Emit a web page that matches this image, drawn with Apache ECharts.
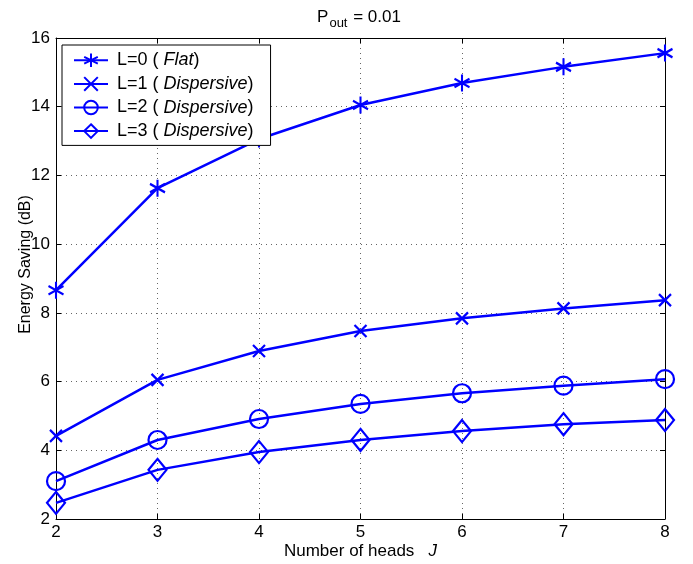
<!DOCTYPE html>
<html>
<head>
<meta charset="utf-8">
<script src="https://cdn.jsdelivr.net/npm/echarts@6/dist/echarts.min.js"></script>
<style>
  html, body { margin: 0; padding: 0; background: #fff; }
  #chart { width: 693px; height: 564px; }
</style>
</head>
<body>
<div id="chart"></div>
<script>
// values
const heads = [2, 3, 4, 5, 6, 7, 8];
const flatL0 = [8.66, 11.63, 13.06, 14.05, 14.69, 15.16, 15.56];
const dispL1 = [4.42, 6.05, 6.89, 7.47, 7.84, 8.13, 8.37];
const dispL2 = [3.10, 4.30, 4.91, 5.35, 5.66, 5.88, 6.07];
const dispL3 = [2.47, 3.43, 3.95, 4.30, 4.56, 4.76, 4.88];
const seriesNames = ['L=0', 'L=1', 'L=2', 'L=3'];
const channelKind = ['Flat', 'Dispersive', 'Dispersive', 'Dispersive'];

const BLUE = '#0000ff';
const FONT = 'Liberation Sans, Arial, sans-serif';

const asterisk = 'path://M0,-10L0,10M-8.66,-5L8.66,5M-8.66,5L8.66,-5';
const cross = 'path://M-1,-1L1,1M-1,1L1,-1';

function pairs(ys) {
  return heads.map((x, i) => [x, ys[i]]);
}

function makeSeries(name, ys, symbol, size) {
  return {
    name,
    type: 'line',
    data: pairs(ys),
    symbol,
    symbolSize: size,
    showAllSymbol: true,
    lineStyle: { color: BLUE, width: 2.5 },
    itemStyle: { color: 'none', borderColor: BLUE, borderWidth: 2.2 },
    emphasis: { disabled: true },
    z: 3
  };
}

const chart = echarts.init(document.getElementById('chart'));

const boxAxis = {
  axisLine: { show: true, lineStyle: { color: '#000', width: 1 } },
  axisTick: { show: true, inside: true, length: 5, lineStyle: { color: '#000' } },
  axisLabel: { show: false },
  splitLine: { show: false }
};

chart.setOption({
  animation: false,
  backgroundColor: '#fff',
  title: {
    text: '{a|P}{s|out}{a| = 0.01}',
    left: 354,
    textAlign: 'center',
    top: 2,
    textStyle: {
      fontWeight: 'normal',
      rich: {
        a: { fontFamily: FONT, fontSize: 17, fontWeight: 'normal', color: '#000', lineHeight: 20 },
        s: { fontFamily: FONT, fontSize: 13, fontWeight: 'normal', color: '#000', lineHeight: 20, padding: [12, 1, 0, 1] }
      }
    }
  },
  grid: { left: 56, right: 28, top: 38, bottom: 45, outerBoundsMode: 'none', containLabel: false },
  legend: {
    orient: 'vertical',
    left: 62,
    top: 45,
    padding: [6, 17, 5, 11],
    itemGap: 5,
    itemWidth: 34,
    itemHeight: 17,
    backgroundColor: '#fff',
    borderColor: '#000',
    borderWidth: 1,
    borderRadius: 0,
    data: seriesNames,
    formatter: name => {
      const k = channelKind[seriesNames.indexOf(name)];
      return '{n|' + name + ' ( }{i|' + k + '}{n|)}';
    },
    textStyle: {
      padding: [0, 0, 0, 4],
      rich: {
        n: { fontFamily: FONT, fontSize: 18, color: '#000' },
        i: { fontFamily: FONT, fontSize: 18, fontStyle: 'italic', color: '#000' }
      }
    }
  },
  xAxis: [
    {
      type: 'value',
      min: 2, max: 8, interval: 1,
      name: '{n|Number of heads   }{i|J}',
      nameLocation: 'middle',
      nameGap: 24,
      nameMoveOverlap: false,
      nameTextStyle: {
        rich: {
          n: { fontFamily: FONT, fontSize: 17, color: '#000' },
          i: { fontFamily: FONT, fontSize: 17, fontStyle: 'italic', color: '#000' }
        }
      },
      axisLine: { show: true, onZero: false, lineStyle: { color: '#000', width: 1 } },
      axisTick: { inside: true, length: 5, lineStyle: { color: '#000' } },
      axisLabel: { fontFamily: FONT, fontSize: 17, color: '#000', margin: 5 },
      splitLine: { show: true, lineStyle: { color: '#666', type: [1, 4], width: 1 } }
    },
    Object.assign({ type: 'value', min: 2, max: 8, interval: 1, position: 'top' }, boxAxis)
  ],
  yAxis: [
    {
      type: 'value',
      min: 2, max: 16, interval: 2,
      name: 'Energy Saving (dB)',
      nameLocation: 'middle',
      nameGap: 22,
      nameMoveOverlap: false,
      nameTextStyle: { fontFamily: FONT, fontSize: 16, color: '#000', padding: [0, 0, 0, 28] },
      axisLine: { show: true, onZero: false, lineStyle: { color: '#000', width: 1 } },
      axisTick: { inside: true, length: 5, lineStyle: { color: '#000' } },
      axisLabel: { fontFamily: FONT, fontSize: 17, color: '#000', margin: 6 },
      splitLine: { show: true, lineStyle: { color: '#666', type: [1, 4], width: 1 } }
    },
    Object.assign({ type: 'value', min: 2, max: 16, interval: 2, position: 'right' }, boxAxis)
  ],
  series: [
    makeSeries(seriesNames[0], flatL0, asterisk, [15, 17]),
    makeSeries(seriesNames[1], dispL1, cross, 12),
    makeSeries(seriesNames[2], dispL2, 'circle', 18),
    makeSeries(seriesNames[3], dispL3, 'diamond', [18, 22])
  ]
});
</script>
</body>
</html>
